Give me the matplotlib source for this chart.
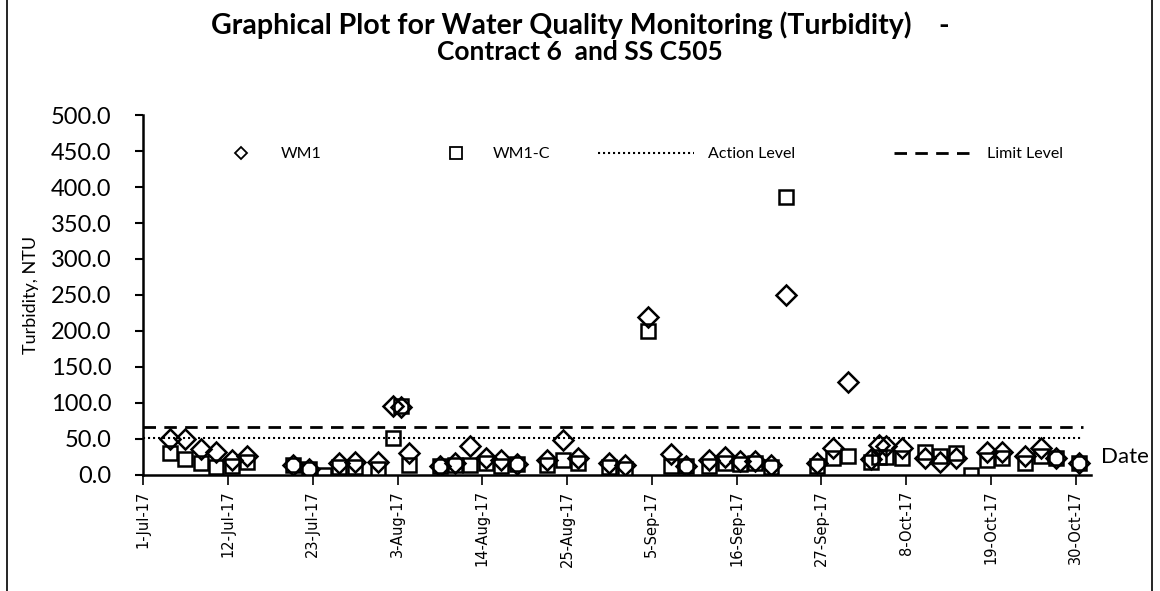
import numpy as np
import pandas as pd
import matplotlib
matplotlib.use("Agg")
import matplotlib.pyplot as plt
from matplotlib.lines import Line2D
from matplotlib.legend import Legend

plt.rcParams['font.family'] = ['Lato', 'DejaVu Sans']

# sampling times (morning visits)
dates = pd.to_datetime([
    "2017-07-04", "2017-07-06", "2017-07-08", "2017-07-10", "2017-07-12", "2017-07-14",
    "2017-07-20", "2017-07-22", "2017-07-24", "2017-07-26", "2017-07-28", "2017-07-31",
    "2017-08-02", "2017-08-03", "2017-08-04", "2017-08-08", "2017-08-10", "2017-08-12",
    "2017-08-14", "2017-08-16", "2017-08-18", "2017-08-22", "2017-08-24", "2017-08-26",
    "2017-08-30", "2017-09-01", "2017-09-04", "2017-09-07", "2017-09-09", "2017-09-12",
    "2017-09-14", "2017-09-16", "2017-09-18", "2017-09-20", "2017-09-22", "2017-09-26",
    "2017-09-28", "2017-09-30", "2017-10-03", "2017-10-04", "2017-10-05", "2017-10-07",
    "2017-10-10", "2017-10-12", "2017-10-14", "2017-10-16", "2017-10-18", "2017-10-20",
    "2017-10-23", "2017-10-25", "2017-10-27", "2017-10-30",
]) + pd.Timedelta(hours=11)

wm1 = [
    49.5, 49.5, 35.7, 32.4, 20.8, 26.4,
    14.0, 9.0, np.nan, 17.0, 18.5, 18.5,
    96.0, 95.0, 31.0, 12.5, 16.0, 40.0,
    24.0, 20.8, 15.0, 21.0, 48.6, 23.0,
    16.0, 14.0, 220.0, 29.0, 12.5, 21.0,
    25.0, 19.4, 19.4, 14.0, 250.0, 17.0,
    38.0, 128.7, 21.8, 41.7, 40.0, 37.0,
    23.0, 18.5, 23.0, np.nan, 32.4, 32.4,
    26.4, 37.0, 23.0, 17.0,
]

wm1_c = [
    30.0, 22.0, 17.0, 11.6, 12.5, 18.5,
    14.0, 9.0, 0.0, 11.5, 11.5, 9.0,
    51.0, 96.0, 14.0, 12.5, 14.0, 14.0,
    16.0, 12.5, 15.0, 14.0, 20.8, 17.0,
    11.6, 9.0, 200.0, 12.5, 12.5, 12.5,
    16.0, 15.0, 17.0, 11.6, 386.5, 12.5,
    24.0, 26.4, 18.5, 25.0, 24.5, 24.0,
    32.4, 26.4, 31.0, 0.0, 21.0, 23.0,
    16.2, 26.4, 23.0, 17.0,
]

level_dates = pd.to_datetime(["2017-07-01", "2017-10-31"])
action_level = [51.0, 51.0]
limit_level = [67.0, 67.0]

fig = plt.figure(figsize=(11.6, 5.91), dpi=100)
ax = fig.add_axes([0.1235, 0.1963, 0.8170, 0.6091])

ax.plot(dates, wm1, linestyle="none", marker="D", markersize=10, markerfacecolor="none",
        markeredgecolor="black", markeredgewidth=1.8)
ax.plot(dates, wm1_c, linestyle="none", marker="s", markersize=10.5, markerfacecolor="none",
        markeredgecolor="black", markeredgewidth=1.8)
ax.plot(level_dates, action_level, color="black", linewidth=1.5, linestyle=(0, (1, 1.4)))
ax.plot(level_dates, limit_level, color="black", linewidth=2, linestyle=(0, (4.5, 3)))

ax.set_xlim(pd.Timestamp("2017-07-01"), pd.Timestamp("2017-11-01"))
ax.set_ylim(0, 500)
ax.set_yticks(np.arange(0, 501, 50))
ax.yaxis.set_major_formatter(matplotlib.ticker.FormatStrFormatter("%.1f"))

tick_dates = pd.date_range("2017-07-01", "2017-10-30", freq="11D")
ax.set_xticks(tick_dates)
ax.set_xticklabels([f"{d.day}-{d.strftime('%b')}-{d.strftime('%y')}" for d in tick_dates],
                   rotation=90, fontsize=10.5, family="DejaVu Sans")

for side in ["top", "right"]:
    ax.spines[side].set_visible(False)
for side in ["left", "bottom"]:
    ax.spines[side].set_linewidth(1.8)
ax.tick_params(axis="y", direction="out", length=6, width=1.5, labelsize=17, pad=17)
ax.tick_params(axis="x", direction="out", length=7, width=1.2, pad=4)

ax.set_ylabel("Turbidity, NTU", fontsize=13)
ax.yaxis.set_label_coords(-0.110, 0.5)
ax.text(1.011, 0.05, "Date", transform=ax.transAxes, fontsize=16, va="center", ha="left")

fig.text(0.5, 0.958, "Graphical Plot for Water Quality Monitoring (Turbidity)    -",
         ha="center", va="center", fontsize=20.5, fontweight="bold")
fig.text(0.5, 0.912, "Contract 6  and SS C505", ha="center", va="center",
         fontsize=19, fontweight="bold")

# legend row: one box per entry
entries = [
    (Line2D([], [], linestyle="none", marker="D", markersize=6.5, markerfacecolor="none",
            markeredgecolor="black", markeredgewidth=1.3), "WM1", 225, 2.0, 1.5),
    (Line2D([], [], linestyle="none", marker="s", markersize=8, markerfacecolor="none",
            markeredgecolor="black", markeredgewidth=1.3), "WM1-C", 440, 2.0, 1.3),
    (Line2D([], [], color="black", linewidth=1.5, linestyle=(0, (1, 1.4))),
     "Action Level", 598, 6.0, 0.85),
    (Line2D([], [], color="black", linewidth=2, linestyle=(0, (4.5, 3))),
     "Limit Level", 893, 5.2, 0.65),
]
for handle, label, px, hlen, hpad in entries:
    leg = Legend(ax, [handle], [label], loc="center left",
                 bbox_to_anchor=((px - 143.3) / 946.7, (475 - 154) / 360),
                 frameon=False, fontsize=11.5, borderpad=0, borderaxespad=0,
                 handlelength=hlen, handletextpad=hpad)
    ax.add_artist(leg)

# outer chart border
fig.add_artist(Line2D([7 / 1160, 7 / 1160], [0, 1], color="black", linewidth=1.2,
                      transform=fig.transFigure))
fig.add_artist(Line2D([1152 / 1160, 1152 / 1160], [0, 1], color="black", linewidth=1.2,
                      transform=fig.transFigure))

fig.savefig("out.png", dpi=100)
